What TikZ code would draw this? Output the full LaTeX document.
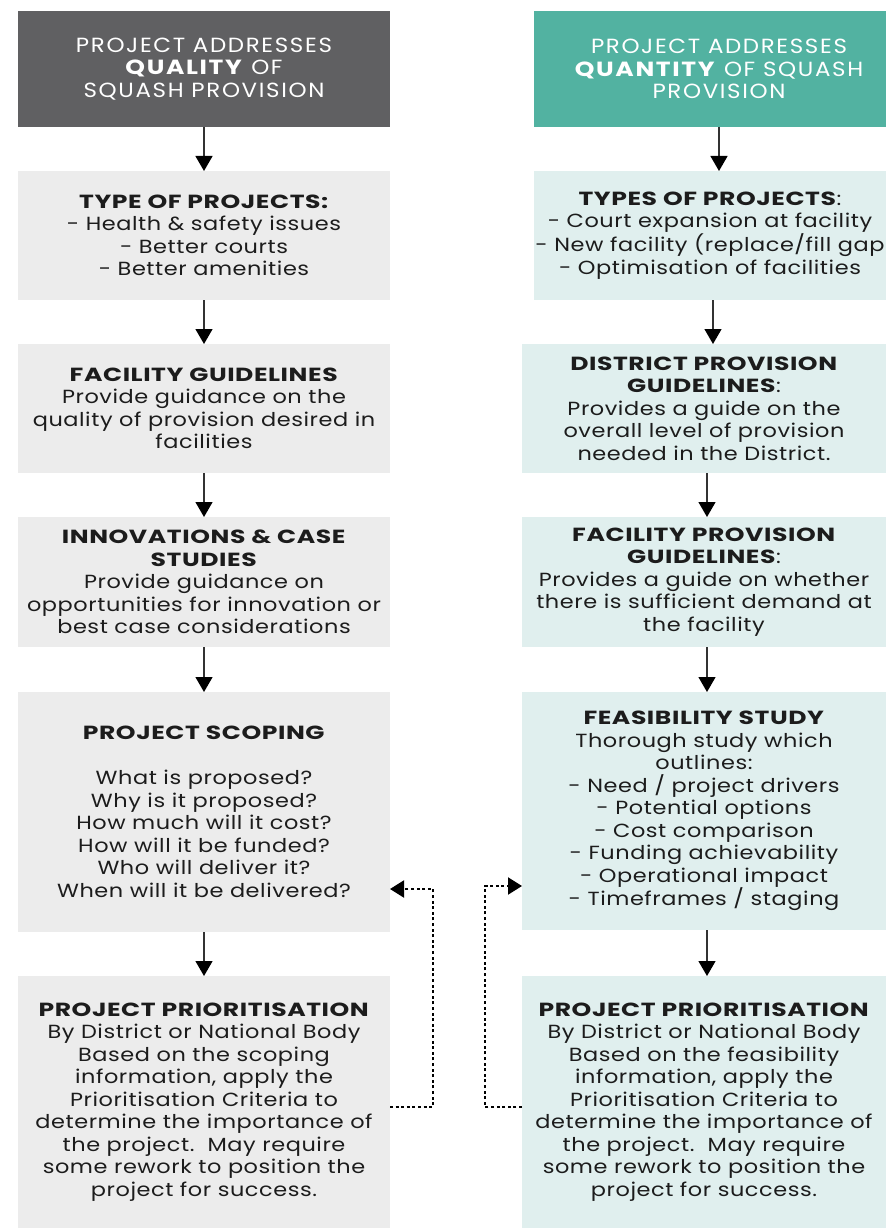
\documentclass[tikz,border=0pt]{standalone}
\usepackage{fontspec}
\setmainfont{Poppins}[LetterSpace=3, UprightFeatures={FakeStretch=1.18}, BoldFeatures={FakeStretch=1.32}]
\newfontfamily\headfont{Poppins}[LetterSpace=8, UprightFeatures={FakeStretch=1.12}, BoldFeatures={FakeStretch=1.22}]
\usetikzlibrary{arrows.meta}
\definecolor{cDark}{HTML}{606062}
\definecolor{cTeal}{HTML}{52B2A1}
\definecolor{cGray}{HTML}{ECECEC}
\definecolor{cLTeal}{HTML}{E0EFEE}
\definecolor{cTxt}{HTML}{1C1C1C}
\definecolor{cLine}{HTML}{333333}
\tikzset{
  base/.style={inner sep=0pt, outer sep=0pt, align=center, text=cTxt,
    font=\fontsize{19}{22.5}\selectfont},
  darkhead/.style={base, fill=cDark, text=white, minimum width=372pt, minimum height=116pt,
    font=\headfont\fontsize{20.5}{22.2}\selectfont},
  tealhead/.style={base, fill=cTeal, text=white, minimum width=352pt, minimum height=116pt,
    font=\headfont\fontsize{20.5}{22.2}\selectfont},
  graybox/.style={base, fill=cGray, minimum width=372pt},
  tealboxA/.style={base, fill=cLTeal, minimum width=352pt},
  tealboxB/.style={base, fill=cLTeal, minimum width=364pt},
  flow/.style={draw=cLine, line width=1.3pt, -{Triangle[width=17pt,length=15pt,color=black]}},
  backloop/.style={draw=black, line width=2pt, dash pattern=on 3pt off 2.6pt,
    -{Triangle[width=17pt,length=14pt]}}
}
\begin{document}
\begin{tikzpicture}[x=1pt,y=-1pt]
\useasboundingbox (0,0) rectangle (886,1230);
% left column
\node[darkhead] (lh) at (204,69) {PROJECT ADDRESSES\\\textbf{QUALITY} OF\\SQUASH PROVISION};
\node[graybox, minimum height=129pt] (l1) at (204,235.5) {\textbf{TYPE OF PROJECTS:}\\- Health \& safety issues\\- Better courts\\- Better amenities};
\node[graybox, minimum height=129pt] (l2) at (204,408.5) {\textbf{FACILITY GUIDELINES}\\Provide guidance on the\\quality of provision desired in\\facilities};
\node[graybox, minimum height=130pt] (l3) at (204,582) {\textbf{INNOVATIONS \& CASE}\\\textbf{STUDIES}\\Provide guidance on\\opportunities for innovation or\\best case considerations};
\node[graybox, minimum height=240pt] (l4) at (204,812) {\textbf{PROJECT SCOPING}\\[22.5pt]What is proposed?\\Why is it proposed?\\How much will it cost?\\How will it be funded?\\Who will deliver it?\\When will it be delivered?};
\node[graybox, minimum height=252pt] (l5) at (204,1102) {\textbf{PROJECT PRIORITISATION}\\By District or National Body\\Based on the scoping\\information, apply the\\Prioritisation Criteria to\\determine the importance of\\the project.\ \ May require\\some rework to position the\\project for success.};
% right column
\node[tealhead] (rh) at (710,69) {\hspace*{18pt}PROJECT ADDRESSES\\\hspace*{18pt}\textbf{QUANTITY} OF SQUASH\\\hspace*{18pt}PROVISION};
\node[tealboxA, minimum height=129pt] (r1) at (710,235.5) {\textbf{TYPES OF PROJECTS}:\\\makebox[330pt][c]{- Court expansion at facility}\\\makebox[330pt][c]{- New facility (replace/fill gap}\\\makebox[330pt][c]{- Optimisation of facilities}};
\node[tealboxB, minimum height=129pt] (r2) at (704,408.5) {\textbf{DISTRICT PROVISION}\\\textbf{GUIDELINES}:\\Provides a guide on the\\overall level of provision\\needed in the District.};
\node[tealboxB, minimum height=130pt] (r3) at (704,582) {\textbf{FACILITY PROVISION}\\\textbf{GUIDELINES}:\\Provides a guide on whether\\there is sufficient demand at\\the facility};
\node[tealboxB, minimum height=238pt] (r4) at (704,811) {\textbf{FEASIBILITY STUDY}\\Thorough study which\\outlines:\\- Need / project drivers\\- Potential options\\- Cost comparison\\- Funding achievability\\- Operational impact\\- Timeframes / staging};
\node[tealboxB, minimum height=252pt] (r5) at (704,1102) {\textbf{PROJECT PRIORITISATION}\\By District or National Body\\Based on the feasibility\\information, apply the\\Prioritisation Criteria to\\determine the importance of\\the project.\ \ May require\\some rework to position the\\project for success.};
% flow arrows
\draw[flow] (lh.south) -- (l1.north);
\draw[flow] (l1.south) -- (l2.north);
\draw[flow] (l2.south) -- (l3.north);
\draw[flow] (l3.south) -- (l4.north);
\draw[flow] (l4.south) -- (l5.north);
\draw[flow] ([xshift=9pt]rh.south) -- ([xshift=9pt]r1.north);
\draw[flow] ([xshift=3pt]r1.south) -- ([xshift=9pt]r2.north);
\draw[flow] ([xshift=3pt]r2.south) -- ([xshift=3pt]r3.north);
\draw[flow] ([xshift=3pt]r3.south) -- ([xshift=3pt]r4.north);
\draw[flow] ([xshift=3pt]r4.south) -- ([xshift=3pt]r5.north);
% feedback loops
\draw[backloop] ([yshift=-5pt]l5.east) -- ++(43,0) |- ([yshift=-77pt]l4.east);
\draw[backloop] ([yshift=-5pt]r5.west) -- ++(-37,0) |- ([yshift=-75pt]r4.west);
\end{tikzpicture}
\end{document}
